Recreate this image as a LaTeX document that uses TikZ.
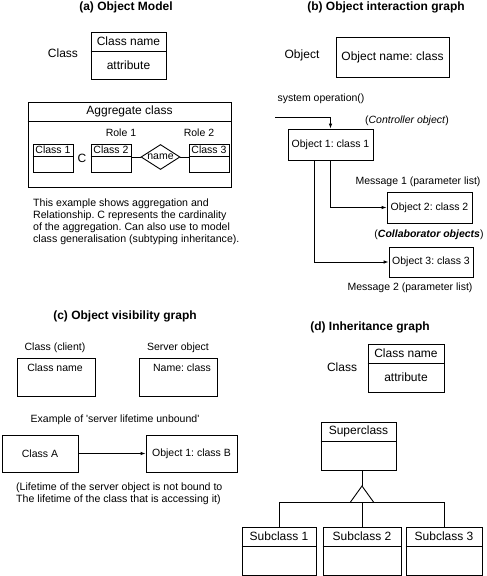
\documentclass[tikz,border=0pt]{standalone}
\usepackage{fontspec}
\setmainfont{Liberation Sans}
\usetikzlibrary{arrows.meta,shapes.geometric}
\frenchspacing
\begin{document}
\begin{tikzpicture}[x=1pt,y=-1pt,
 box/.style={draw,line width=0.9pt,rectangle,inner sep=0pt},
 big/.style={font=\fontsize{12}{14}\selectfont},
 med/.style={font=\fontsize{10.5}{12.5}\selectfont},
 ttl/.style={font=\fontsize{12}{14}\selectfont\bfseries},
 para/.style={font=\fontsize{10.6}{11.8}\selectfont,align=left,inner sep=0pt,anchor=north west},
 conn/.style={line width=0.9pt},
 arr/.style={conn,-{Latex[length=5pt,width=3.6pt]}}]
\useasboundingbox (0,0) rectangle (487,576);

% ---------------- (a) Object Model
\node[ttl] (ta) at (126,7) {(a) Object Model};
\node[big] (lca) at (63,53) {Class};
\node[box,minimum width=75pt,minimum height=47pt] (ca) at (128.5,55.5) {};
\draw[conn] ([yshift=-20pt]ca.north west) -- ([yshift=-20pt]ca.north east);
\node[big] (can) at ([yshift=-10pt]ca.north) {Class name};
\node[big] (caa) at ([yshift=-33.5pt]ca.north) {attribute};

\node[box,minimum width=203pt,minimum height=85pt] (agg) at (129.5,144.5) {};
\draw[conn] ([yshift=-20pt]agg.north west) -- ([yshift=-20pt]agg.north east);
\node[big] (aggt) at ([yshift=-10pt]agg.north) {Aggregate class};
\node[med] (r1) at (121,133) {Role 1};
\node[med] (r2) at (199,133) {Role 2};
\node[box,minimum width=40pt,minimum height=28pt] (c1) at (53,158) {};
\node[box,minimum width=40pt,minimum height=28pt] (c2) at (111,158) {};
\node[box,minimum width=40pt,minimum height=28pt] (c3) at (209,158) {};
\foreach \b in {c1,c2,c3}{\draw[conn] ([yshift=-13pt]\b.north west) -- ([yshift=-13pt]\b.north east);}
\node[med] (c1t) at ([yshift=-6.5pt]c1.north) {Class 1};
\node[med] (c2t) at ([yshift=-6.5pt]c2.north) {Class 2};
\node[med] (c3t) at ([yshift=-6.5pt]c3.north) {Class 3};
\node[big] (card) at (82,158) {C};
\node[diamond,draw,line width=0.9pt,minimum width=39pt,minimum height=25pt,inner sep=0pt] (rel) at (160.5,157) {};
\node[med] (relt) at (160.5,157) {name};
\draw[conn] (c2.east |- rel.west) -- (rel.west);
\draw[conn] (rel.east) -- (c3.west |- rel.east);
\node[para] (pa) at (33,199) {This example shows aggregation and\\Relationship. C represents the cardinality\\of the aggregation. Can also use to model\\class generalisation (subtyping inheritance).};

% ---------------- (b) Object interaction graph
\node[ttl] (tb) at (386,7) {(b) Object interaction graph};
\node[big] (lob) at (302,55) {Object};
\node[box,minimum width=113pt,minimum height=40pt] (ob) at (392.5,57) {};
\node[big] (obt) at (392.5,57) {Object name: class};
\node[med] (sysop) at (321,99) {system operation()};
\coordinate (s0) at (275,117);
\node[box,minimum width=85pt,minimum height=31pt,med] (o1) at (330.5,144.5) {Object 1: class 1};
\draw[arr] (s0) -| (o1.north);
\node[med] (ctrl) at (407,121) {(\textit{Controller object})};
\node[box,minimum width=85pt,minimum height=31pt,med] (o2) at (429.5,207.5) {Object 2: class 2};
\node[box,minimum width=84pt,minimum height=30pt,med] (o3) at (431,262) {Object 3: class 3};
\draw[arr] (o1.south) |- (o2.west);
\draw[arr] ([xshift=-16.5pt]o1.south) |- (o3.west);
\node[med] (m1) at (418,182) {Message 1 (parameter list)};
\node[med] (collab) at (429,235) {(\textbf{\textit{Collaborator objects}})};
\node[med] (m2) at (410,288) {Message 2 (parameter list)};

% ---------------- (c) Object visibility graph
\node[ttl] (tc) at (125,316) {(c) Object visibility graph};
\node[med] (lcl) at (55,348) {Class (client)};
\node[med] (lsv) at (178,348) {Server object};
\node[box,minimum width=78pt,minimum height=38pt] (cl) at (56,377) {};
\node[med] (clt) at (55,368) {Class name};
\node[box,minimum width=78pt,minimum height=38pt] (sv) at (178,377) {};
\node[med] (svt) at (182,368) {Name: class};
\node[med] (ex) at (115,420) {Example of \textquotesingle server lifetime unbound\textquotesingle};
\node[box,minimum width=76pt,minimum height=37pt,med] (ca2) at (40,453.5) {Class A};
\node[box,minimum width=91pt,minimum height=37pt,med] (ob2) at (191.5,453.5) {Object 1: class B};
\draw[arr] (ca2.east) -- (ob2.west);
\node[para] (lt) at (16,483) {(Lifetime of the server object is not bound to\\The lifetime of the class that is accessing it)};

% ---------------- (d) Inheritance graph
\node[ttl] (td) at (370,327) {(d) Inheritance graph};
\node[big] (lcd) at (342,367) {Class};
\node[box,minimum width=76pt,minimum height=48pt] (cd) at (406,368) {};
\draw[conn] ([yshift=-20pt]cd.north west) -- ([yshift=-20pt]cd.north east);
\node[big] (cdn) at ([yshift=-10pt]cd.north) {Class name};
\node[big] (cda) at ([yshift=-34pt]cd.north) {attribute};

\node[box,minimum width=75pt,minimum height=48pt] (sup) at (358.5,446) {};
\draw[conn] ([yshift=-20pt]sup.north west) -- ([yshift=-20pt]sup.north east);
\node[big] (supt) at ([yshift=-10pt]sup.north) {Superclass};
\foreach \n/\x/\w/\t in {s1/279/74/Subclass 1,s2/362/78/Subclass 2,s3/444/76/Subclass 3}{
  \node[box,minimum width=\w pt,minimum height=48pt] (\n) at (\x,551) {};
  \draw[conn] ([yshift=-20pt]\n.north west) -- ([yshift=-20pt]\n.north east);
  \node[big] (\n t) at ([yshift=-10pt]\n.north) {\t};
}
\coordinate (apex) at (362,486);
\coordinate (bl) at (350.5,502);
\coordinate (br) at (373.5,502);
\draw[conn] (apex |- sup.south) -- (apex);
\draw[conn,line join=miter] (bl) -- (apex) -- (br);
\draw[conn] (s1.north) -- (s1.north |- bl) -- (s3.north |- bl) -- (s3.north);
\draw[conn] (s2.north) -- (s2.north |- bl);
\end{tikzpicture}
\end{document}
